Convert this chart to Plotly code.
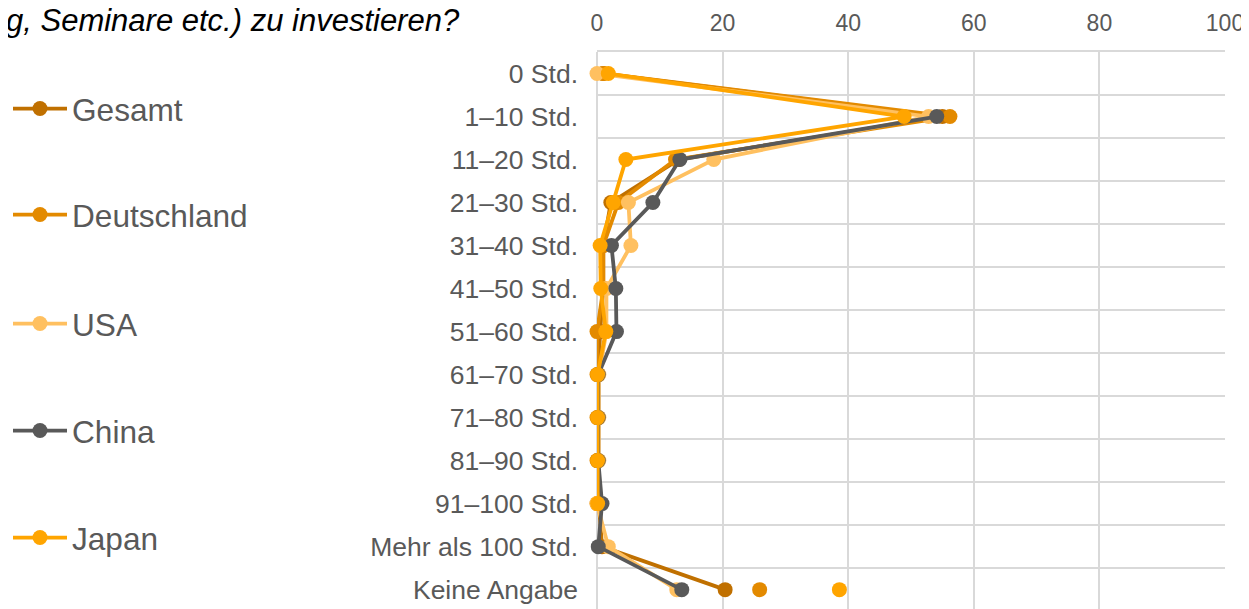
import plotly.graph_objects as go

categories = ["0 Std.", "1–10 Std.", "11–20 Std.", "21–30 Std.", "31–40 Std.",
              "41–50 Std.", "51–60 Std.", "61–70 Std.", "71–80 Std.", "81–90 Std.",
              "91–100 Std.", "Mehr als 100 Std.", "Keine Angabe"]

gesamt      = [1.0, 55.0, 13.0, 2.2, 1.0, 1.0, 0.5, 0.2, 0.2, 0.1, 0.3, 0.8, 20.4]
deutschland = [1.0, 56.2, 12.5, 3.4, 1.0, 1.0, 0.0, 0.0, 0.0, 0.0, 0.0, None, 25.9]
usa         = [0.0, 52.8, 18.6, 5.0, 5.4, 1.5, 1.5, 0.3, 0.3, 0.3, 0.0, 1.8, 12.7]
china       = [None, 54.1, 13.2, 8.9, 2.3, 3.0, 3.1, 0.2, 0.2, 0.2, 0.8, 0.2, 13.5]
japan       = [1.8, 48.9, 4.6, 2.6, 0.5, 0.6, 1.4, 0.1, 0.1, 0.1, 0.1, None, 38.6]

series_names = ["Gesamt", "Deutschland", "USA", "China", "Japan"]
series_values = [gesamt, deutschland, usa, china, japan]
series_colors = ["#C07000", "#E38A00", "#FFC060", "#595959", "#FFA500"]

x_ticks = [0, 20, 40, 60, 80, 100]

# page has an 8px body margin: figure is sized to fill the rest of the window
OFF = 8
W, H = 1249 - OFF, 609 - OFF
legend_centers = [111, 217, 326, 433, 540]  # page rows of legend entries

fig = go.Figure()
layout_legends = {}
for i, (name, vals, col) in enumerate(zip(series_names, series_values, series_colors)):
    lg = "legend" if i == 0 else f"legend{i + 1}"
    fig.add_trace(go.Scatter(
        x=vals, y=categories, name=name, mode="lines+markers",
        line=dict(color=col, width=3.8),
        marker=dict(color=col, size=15),
        connectgaps=False, cliponaxis=False, legend=lg,
    ))
    layout_legends[lg] = dict(
        xref="container", yref="container", x=0.0,
        y=1 - (legend_centers[i] - OFF - 2) / H,
        xanchor="left", yanchor="middle",
        font=dict(size=31.6, color="#595959"),
        itemwidth=54, bgcolor="rgba(0,0,0,0)",
    )

plot_left, plot_top = 597 - OFF, 52 - OFF
plot_w = 628
plot_h = H - plot_top

fig.update_layout(
    width=W, height=H, autosize=False,
    margin=dict(l=plot_left, r=W - plot_left - plot_w, t=plot_top, b=0, pad=0,
                autoexpand=False),
    paper_bgcolor="white", plot_bgcolor="white",
    font=dict(family="Liberation Sans, Arial, sans-serif", color="#595959"),
    showlegend=True,
    **layout_legends,
)

fig.update_xaxes(
    side="top", range=[0, 100], tickvals=x_ticks,
    showgrid=True, gridcolor="#D9D9D9", gridwidth=1.5,
    zeroline=True, zerolinecolor="#D9D9D9", zerolinewidth=1.5,
    showline=True, linecolor="#D9D9D9", linewidth=1.5, ticks="",
    tickfont=dict(size=23, color="#595959"),
    ticklabelstandoff=10, automargin=False,
)
fig.update_yaxes(
    type="category", categoryorder="array", categoryarray=categories,
    range=[12.45, -0.5], tickson="boundaries",
    showgrid=True, gridcolor="#D9D9D9", gridwidth=1.5,
    showline=False, ticks="", zeroline=False,
    tickfont=dict(size=26.5, color="#595959"),
    ticklabelstandoff=18, automargin=False,
)

fig.add_annotation(
    text="<i>g, Seminare etc.) zu investieren?</i>",
    xref="paper", yref="paper", x=-135 / plot_w, y=1 + 32 / plot_h,
    xanchor="right", yanchor="middle", showarrow=False,
    font=dict(size=31, color="#000000"),
)

fig.write_html("out.html")
